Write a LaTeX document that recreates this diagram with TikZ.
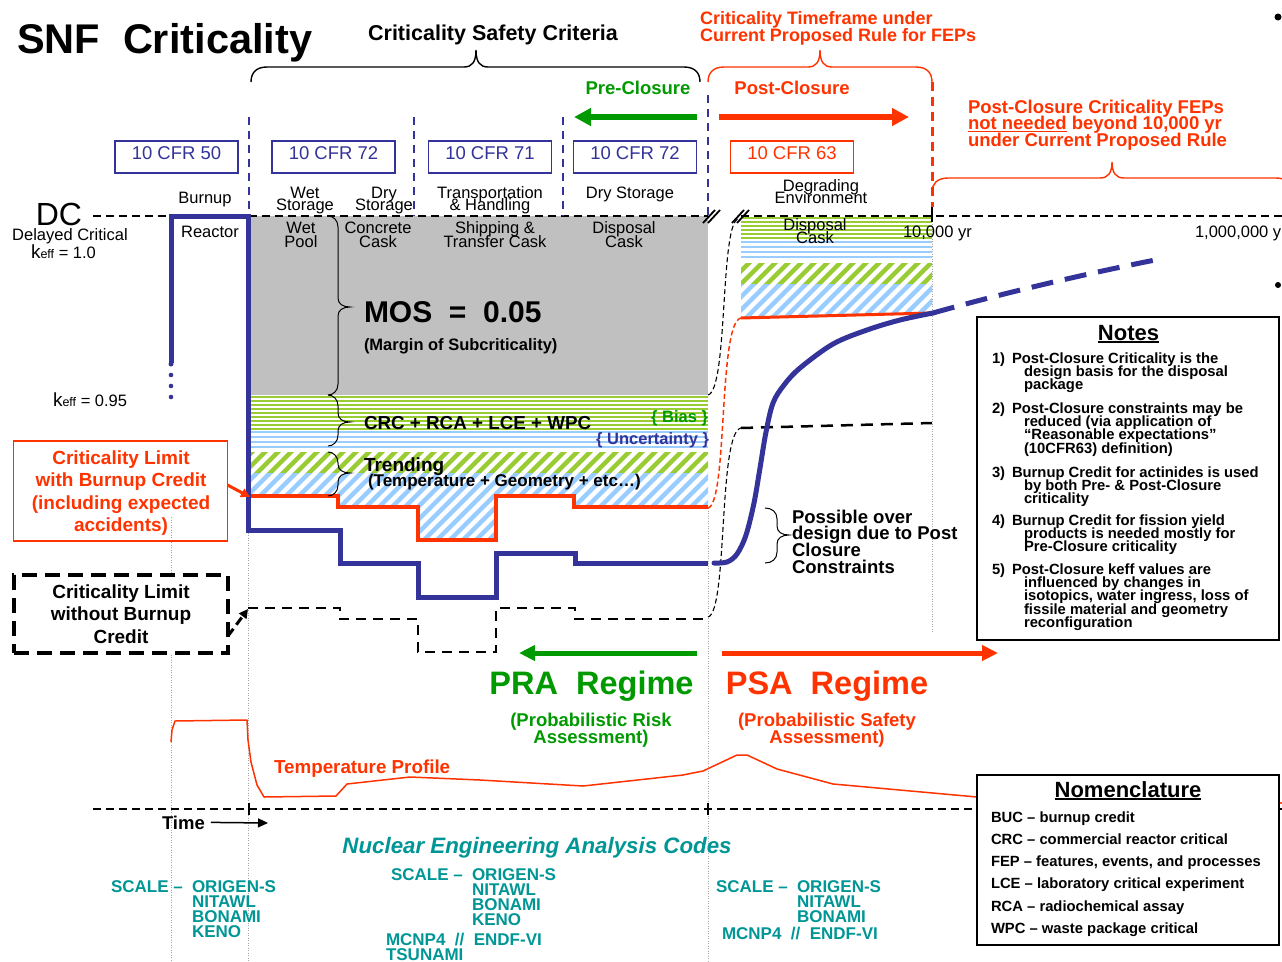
\documentclass[tikz,border=0pt]{standalone}
\usepackage{fontspec}
\setmainfont{Liberation Sans}
\usetikzlibrary{arrows.meta}
\definecolor{cblue}{RGB}{51,51,153}
\definecolor{cred}{RGB}{255,51,0}
\definecolor{cgreen}{RGB}{0,153,0}
\definecolor{hgreen}{RGB}{153,204,51}
\definecolor{hblue}{RGB}{153,204,255}
\definecolor{cgray}{RGB}{192,192,192}
\definecolor{cteal}{RGB}{0,150,150}
\newcommand{\fz}[2]{\fontsize{#1pt}{#2pt}\selectfont}
\newcommand{\mlc}[2]{\parbox[t]{#1pt}{\lineskiplimit=-100pt\lineskip=0pt\centering #2}}
\newcommand{\mll}[2]{\parbox[t]{#1pt}{\lineskiplimit=-100pt\lineskip=0pt\raggedright #2}}
\newcommand{\ulx}[1]{\leavevmode\setbox0=\hbox{#1}\rlap{\rule[-2.8pt]{\wd0}{1.4pt}}\box0\relax}
\newcommand{\ind}{\hspace*{12pt}}
% upward brace: x1, x2, xtip, yend, ybar, ytip
\newcommand{\upbr}[6]{(#1,#4) .. controls (#1,#5+6) and (#1+5,#5) .. (#1+16,#5) -- (#3-12,#5) .. controls (#3-4,#5) and (#3,#5-5) .. (#3,#6) .. controls (#3,#5-5) and (#3+4,#5) .. (#3+12,#5) -- (#2-16,#5) .. controls (#2-5,#5) and (#2,#5+6) .. (#2,#4)}
% rightward brace: ytop, ybot, ytip, xend, xbar, xtip
\newcommand{\rtbr}[6]{(#4,#1) .. controls (#5-5,#1) and (#5,#1+4) .. (#5,#1+11) -- (#5,#3-9) .. controls (#5,#3-3) and (#5+5,#3) .. (#6,#3) .. controls (#5+5,#3) and (#5,#3+3) .. (#5,#3+9) -- (#5,#2-11) .. controls (#5,#2-4) and (#5-5,#2) .. (#4,#2)}
\tikzset{
  every node/.style={inner sep=0pt, outer sep=0pt},
  lbl/.style={font=\fz{16.5}{12}},
  glbl/.style={font=\fz{16.5}{14}},
  cfrbox/.style={draw=cblue, line width=1.2pt, minimum width=123pt, minimum height=32pt, text depth=7pt, text=cblue, font=\fz{18.5}{18.5}},
  bdash/.style={cblue, line width=2.7pt, dash pattern=on 8pt off 6pt},
  rdash/.style={cred, line width=3pt, dash pattern=on 9pt off 6pt},
  dcline/.style={black, line width=1.5pt, dash pattern=on 8pt off 5pt},
  gdot/.style={gray!70, line width=0.7pt, dash pattern=on 1pt off 1.5pt},
  thindash/.style={black, line width=1.1pt, dash pattern=on 5pt off 3pt},
  limblue/.style={cblue, line width=5pt, line cap=round},
  limred/.style={cred, line width=3.5pt},
  limblack/.style={black, line width=2.8pt, dash pattern=on 10pt off 7pt},
  hstr/.style={line width=2.2pt},
  dstr/.style={line width=4.5pt},
  tealtxt/.style={text=cteal, font=\fz{17}{15}\bfseries},
  notetxt/.style={font=\fz{14.8}{13.4}\bfseries},
  nomtxt/.style={font=\fz{14.8}{22.3}\bfseries},
}
\begin{document}
\begin{tikzpicture}[x=1pt,y=-1pt]
\useasboundingbox (0,0) rectangle (1282,961);
\fill[white] (0,0) rectangle (1282,961);

% ---------- fills (pre-closure) ----------
\fill[cgray] (249,216) rectangle (708,395);
\begin{scope}
  \clip (249,395) rectangle (708,430);
  \foreach \yy in {397,401,...,429} \draw[hgreen,hstr] (249,\yy) -- (708,\yy);
\end{scope}
\begin{scope}
  \clip (249,430) rectangle (708,450);
  \foreach \yy in {432,437,...,449} \draw[hblue,hstr,line width=2.6pt] (249,\yy) -- (708,\yy);
\end{scope}
\begin{scope}
  \clip (249,452) rectangle (708,473);
  \foreach \xx in {40,53,...,720} \draw[hgreen,dstr] (\xx,560) -- ++(200,-200);
\end{scope}
\begin{scope}
  \clip (249,473) -- (708,473) -- (708,507) -- (574,507) -- (574,496) -- (496,496) -- (496,540) -- (418,540) -- (418,507) -- (338,507) -- (338,496) -- (249,496) -- cycle;
  \foreach \xx in {40,53,...,720} \draw[hblue,dstr] (\xx,560) -- ++(200,-200);
\end{scope}

% ---------- fills (post-closure) ----------
\begin{scope}
  \clip (741,216) rectangle (932,240);
  \foreach \yy in {218,222,...,238} \draw[hgreen,hstr] (741,\yy) -- (932,\yy);
\end{scope}
\begin{scope}
  \clip (741,240) rectangle (932,262);
  \foreach \yy in {242,247,...,261} \draw[hblue,hstr,line width=2.6pt] (741,\yy) -- (932,\yy);
\end{scope}
\begin{scope}
  \clip (741,263) rectangle (932,284);
  \foreach \xx in {600,613,...,940} \draw[hgreen,dstr] (\xx,360) -- ++(120,-120);
\end{scope}
\begin{scope}
  \clip (741,284) -- (932,284) -- (932,313) -- (741,318) -- cycle;
  \foreach \xx in {600,613,...,940} \draw[hblue,dstr] (\xx,360) -- ++(120,-120);
\end{scope}

% ---------- guide lines ----------
\draw[gdot] (171,517) -- (171,961);
\draw[gdot] (248,530) -- (248,961);
\draw[gdot] (708,508) -- (708,961);
\draw[gdot] (932,216) -- (932,632);

\draw[dcline] (93,216) -- (708,216);
\draw[dcline] (741,216) -- (1282,216);
\draw[line width=1.8pt] (703,223) -- (715,210) (708,223) -- (720,210);
\draw[line width=1.8pt] (732,223) -- (744,210) (737,223) -- (749,210);

\draw[bdash] (249,117) -- (249,214);
\draw[bdash] (414,117) -- (414,216);
\draw[bdash] (563,117) -- (563,216);
\draw[bdash] (708,95) -- (708,216);
\draw[rdash] (932,82) -- (932,207);
\draw[line width=2pt] (932,207) -- (932,222);

% time axis
\draw[dcline] (93,809) -- (1282,809);
\draw[line width=2.5pt] (249,803) -- (249,815);
\draw[line width=2.5pt] (708,803) -- (708,815);

% temperature profile
\draw[cred, line width=1.5pt, line join=round] (171,742) -- (172,730) -- (175,721) -- (247,720) -- (248,740) -- (251,762) -- (257,785) -- (264,797) -- (336,796) -- (347,784) -- (410,777) -- (480,780) -- (583,786) -- (683,775) -- (703,771) -- (737,755) -- (747,755) -- (777,769) -- (833,784) -- (977,797) -- (1282,803);

% ---------- limit lines ----------
\draw[limred] (249,496) -- (338,496) -- (338,507) -- (418,507) -- (418,540) -- (496,540) -- (496,496) -- (574,496) -- (574,507) -- (708,507);
\draw[limred, line width=3pt] (741,318) -- (932,313);
\draw[limblack] (248,608) -- (340,608) -- (340,619) -- (418,619) -- (418,652) -- (496,652) -- (496,608) -- (575,608) -- (575,619) -- (708,619);
\draw[limblack, line width=2.5pt, dash pattern=on 12pt off 8pt] (741,428) -- (932,423);
\draw[limblue, line cap=butt] (171,363) -- (171,216) -- (248,216) -- (248,530) -- (340,530) -- (340,563) -- (418,563) -- (418,597) -- (496,597) -- (496,553) -- (575,553) -- (575,563) -- (708,563);
\fill[cblue] (171,364) circle (2.5pt) (171,375) circle (2.3pt) (171,386) circle (2.3pt) (171,397) circle (2.3pt);

% connectors across the break
\draw[thindash] (708,395) .. controls (728,390) and (720,225) .. (738,219);
\draw[cred, line width=1.5pt, dash pattern=on 5pt off 3pt] (708,508) .. controls (728,503) and (718,322) .. (741,318);
\draw[thindash] (708,617) .. controls (728,612) and (718,432) .. (741,428);

% post-closure blue curve
\draw[cblue, line width=5pt, line cap=round] plot[smooth, tension=0.55] coordinates {(714,563) (727,562) (737,554) (746,535) (754,503) (760,468) (766,432) (773,403) (784,385) (800,368) (833,344) (867,330) (900,320) (933,313)};
\draw[cblue, line width=5pt, dash pattern=on 22pt off 12pt] (933,313) .. controls (1000,294) and (1080,275) .. (1155,260);

% ---------- braces ----------
\draw[line width=1.4pt] \upbr{251}{700}{476}{82}{67}{50};
\draw[cred, line width=1.4pt] \upbr{708}{932}{820}{82}{67}{50};
\draw[cred, line width=1.4pt] \upbr{932}{1292}{1112}{192}{178}{162};
\draw[line width=1pt] \rtbr{216}{395}{307}{328}{338}{350};
\draw[line width=1pt] \rtbr{395}{446}{422}{328}{338}{350};
\draw[line width=1pt] \rtbr{452}{496}{473}{328}{338}{350};
\draw[line width=1pt] \rtbr{508}{563}{535}{765}{777}{789};

% ---------- arrows ----------
\draw[cgreen, line width=5.5pt, -{Triangle[length=17pt,width=17pt]}] (697,117) -- (574,117);
\draw[cred, line width=5.5pt, -{Triangle[length=17pt,width=17pt]}] (719,117) -- (909,117);
\draw[cgreen, line width=5pt, -{Triangle[length=16pt,width=15pt]}] (697,653) -- (519,653);
\draw[cred, line width=5pt, -{Triangle[length=16pt,width=15pt]}] (722,653) -- (998,653);

% ---------- title & headers ----------
\node[anchor=base west, font=\fz{41.5}{41.5}\bfseries] (title) at (17,53) {SNF\ \ Criticality};
\node[anchor=base, font=\fz{21.5}{21.5}\bfseries] (csc) at (493,40) {Criticality Safety Criteria};
\node[anchor=base west, font=\fz{18}{17}\bfseries, text=cred] (tf) at (700,24) {\mll{320}{Criticality Timeframe under\\Current Proposed Rule for FEPs}};
\node[anchor=base, font=\fz{18.5}{18.5}\bfseries, text=cgreen] (pre) at (638,94) {Pre-Closure};
\node[anchor=base, font=\fz{18.5}{18.5}\bfseries, text=cred] (post) at (792,94) {Post-Closure};
\node[anchor=base west, font=\fz{18.5}{16.5}\bfseries, text=cred] (feps) at (968,113) {\mll{320}{Post-Closure Criticality FEPs\\\ulx{not needed} beyond 10,000 yr\\under Current Proposed Rule}};
\fill (1278,17) circle (3.5pt);
\fill (1278,285) circle (3pt);

% CFR boxes
\node[cfrbox] (c50) at (176.5,157) {10 CFR 50};
\node[cfrbox] (c72a) at (333.5,157) {10 CFR 72};
\node[cfrbox] (c71) at (490,157) {10 CFR 71};
\node[cfrbox] (c72b) at (635,157) {10 CFR 72};
\node[cfrbox, draw=cred, text=cred] (c63) at (792,157) {10 CFR 63};

% phase labels
\node[lbl, anchor=base] (burn) at (205,203) {Burnup};
\node[lbl, anchor=base] (wst) at (305,198) {\mlc{90}{Wet\\Storage}};
\node[lbl, anchor=base] (dst) at (384,198) {\mlc{90}{Dry\\Storage}};
\node[lbl, anchor=base] (trh) at (490,198) {\mlc{140}{Transportation\\\& Handling}};
\node[lbl, anchor=base] (dry2) at (630,198) {Dry Storage};
\node[lbl, anchor=base] (deg) at (821,191) {\mlc{120}{Degrading\\Environment}};

\node[glbl, anchor=base] (wp) at (301,233) {\mlc{80}{Wet\\Pool}};
\node[glbl, anchor=base] (cc) at (378,233) {\mlc{90}{Concrete\\Cask}};
\node[glbl, anchor=base] (stc) at (495,233) {\mlc{130}{Shipping \&\\Transfer Cask}};
\node[glbl, anchor=base] (dc1) at (624,233) {\mlc{90}{Disposal\\Cask}};
\node[lbl, font=\fz{16.5}{13}, anchor=base] (dc2) at (815,230) {\mlc{90}{Disposal\\Cask}};
\node[lbl, anchor=base] (reac) at (210,237) {Reactor};

\node[anchor=base, font=\fz{32}{32}] (dc) at (59,225) {DC};
\node[anchor=base, font=\fz{16.5}{16.5}] (delc) at (70,240) {Delayed Critical};
\node[anchor=base west, font=\fz{16.5}{16.5}] (k1) at (31,258) {{\fz{19}{19}k}{\fz{12.5}{12.5}eff} = 1.0};
\node[anchor=base west, font=\fz{16.5}{16.5}] (k2) at (53,406) {{\fz{19}{19}k}{\fz{12.5}{12.5}eff} = 0.95};
\node[anchor=base west, font=\fz{16.5}{16.5}] (y1) at (903,237) {10,000 yr};
\node[anchor=base west, font=\fz{16.5}{16.5}] (y2) at (1195,237) {1,000,000 yr};

% margin texts
\node[anchor=base west, font=\fz{30}{30}\bfseries] (mos) at (364,322) {MOS\ \ =\ \ 0.05};
\node[anchor=base west, font=\fz{16.5}{16.5}\bfseries] (mos2) at (364,350) {(Margin of Subcriticality)};
\node[anchor=base west, font=\fz{18.8}{18.8}\bfseries] (crc) at (364,429) {CRC + RCA + LCE + WPC};
\node[anchor=base east, font=\fz{16.5}{16.5}\bfseries, text=cgreen] (bias) at (708,422) {\{ Bias \}};
\node[anchor=base east, font=\fz{16.5}{16.5}\bfseries, text=cblue] (unc) at (709,444) {\{ Uncertainty \}};
\node[anchor=base west, font=\fz{19}{19}\bfseries] (trd) at (364,471) {Trending};
\node[anchor=base west, font=\fz{17}{17}\bfseries] (trd2) at (368,486) {(Temperature + Geometry + etc…)};

% limit boxes
\node[draw=cred, line width=1.3pt, minimum width=214pt, minimum height=100pt] (rbox) at (120.5,491) {};
\node[anchor=base, font=\fz{19}{22.6}\bfseries, text=cred] (rboxt) at (121,464) {\mlc{220}{Criticality Limit\\with Burnup Credit\\(including expected\\accidents)}};
\coordinate (rlim) at (250,497);
\draw[cred, line width=3pt, -{Triangle[length=9pt,width=9pt]}] ([yshift=6pt]rbox.east) -- (rlim);

\node[draw, fill=white, line width=3.5pt, dash pattern=on 15pt off 8pt, minimum width=214pt, minimum height=78pt] (bbox) at (121,614) {};
\node[anchor=base, font=\fz{19}{22.5}\bfseries] (bboxt) at (121,598) {\mlc{220}{Criticality Limit\\without Burnup\\Credit}};
\coordinate (blim) at (248,609);
\draw[line width=3pt, dash pattern=on 9pt off 5pt, -{Triangle[length=9pt,width=9pt]}] ([yshift=-22pt]bbox.east) -- (blim);

\node[anchor=base west, font=\fz{18.5}{16.8}\bfseries] (over) at (792,523) {\mll{200}{Possible over\\design due to Post\\Closure\\Constraints}};

% regimes
\node[anchor=base, font=\fz{32.5}{32.5}\bfseries, text=cgreen] (pra) at (591.5,694) {PRA\ \ Regime};
\node[anchor=base, font=\fz{32.5}{32.5}\bfseries, text=cred] (psa) at (827,694) {PSA\ \ Regime};
\node[anchor=base, font=\fz{18.5}{17}\bfseries, text=cgreen] (pra2) at (591,726) {\mlc{220}{(Probabilistic Risk\\Assessment)}};
\node[anchor=base, font=\fz{18.5}{17}\bfseries, text=cred] (psa2) at (827,726) {\mlc{220}{(Probabilistic Safety\\Assessment)}};

\node[anchor=base west, font=\fz{18.8}{18.8}\bfseries, text=cred] (tprof) at (274,773) {Temperature Profile};
\node[anchor=base west, font=\fz{18.5}{18.5}\bfseries] (time) at (162,829) {Time};
\coordinate (tarr) at (268,823);
\draw[line width=1.5pt, -{Triangle[length=10pt,width=9pt]}] ([xshift=6pt]time.east) -- (tarr);

% codes
\node[anchor=base, font=\fz{22.3}{22.3}\bfseries\itshape, text=cteal] (neac) at (537,853) {Nuclear Engineering Analysis Codes};
\node[tealtxt, anchor=base west] (sc1) at (111,892) {SCALE –};
\node[tealtxt, anchor=base west] (or1) at (192,892) {\mll{150}{ORIGEN-S\\NITAWL\\BONAMI\\KENO}};
\node[tealtxt, anchor=base west] (sc2) at (391,880) {SCALE –};
\node[tealtxt, anchor=base west] (or2) at (472,880) {\mll{150}{ORIGEN-S\\NITAWL\\BONAMI\\KENO}};
\node[tealtxt, anchor=base west] (mc2) at (386,945) {\mll{250}{MCNP4\ \ //\ \ ENDF-VI\\TSUNAMI}};
\node[tealtxt, anchor=base west] (sc3) at (716,892) {SCALE –};
\node[tealtxt, anchor=base west] (or3) at (797,892) {\mll{150}{ORIGEN-S\\NITAWL\\BONAMI}};
\node[tealtxt, anchor=base west] (mc3) at (722,939) {MCNP4\ \ //\ \ ENDF-VI};

% notes box
\node[draw, fill=white, line width=1.3pt, minimum width=302pt, minimum height=323pt] (notes) at (1128,478.5) {};
\node[anchor=base, font=\fz{22}{22}\bfseries] (notest) at (1128.5,340) {\ulx{Notes}};
\node[notetxt, anchor=base west] (n1) at (992,363) {1)};
\node[notetxt, anchor=base west] (n1t) at (1012,363) {\mll{300}{Post-Closure Criticality is the\\\ind design basis for the disposal\\\ind package}};
\node[notetxt, anchor=base west] (n2) at (992,413) {2)};
\node[notetxt, anchor=base west] (n2t) at (1012,413) {\mll{300}{Post-Closure constraints may be\\\ind reduced (via application of\\\ind “Reasonable expectations”\\\ind (10CFR63) definition)}};
\node[notetxt, anchor=base west] (n3) at (992,477) {3)};
\node[notetxt, anchor=base west] (n3t) at (1012,477) {\mll{300}{Burnup Credit for actinides is used\\\ind by both Pre- \& Post-Closure\\\ind criticality}};
\node[notetxt, anchor=base west] (n4) at (992,525) {4)};
\node[notetxt, anchor=base west] (n4t) at (1012,525) {\mll{300}{Burnup Credit for fission yield\\\ind products is needed mostly for\\\ind Pre-Closure criticality}};
\node[notetxt, anchor=base west] (n5) at (992,574) {5)};
\node[notetxt, anchor=base west] (n5t) at (1012,574) {\mll{300}{Post-Closure keff values are\\\ind influenced by changes in\\\ind isotopics, water ingress, loss of\\\ind fissile material and geometry\\\ind reconfiguration}};

% nomenclature box
\node[draw, fill=white, line width=1.3pt, minimum width=302pt, minimum height=170pt] (nom) at (1128,860) {};
\node[anchor=base, font=\fz{22}{22}\bfseries] (nomt) at (1128,797) {\ulx{Nomenclature}};
\node[nomtxt, anchor=base west] (nomi) at (991,822) {\mll{285}{BUC – burnup credit\\CRC – commercial reactor critical\\FEP – features, events, and processes\\LCE – laboratory critical experiment\\RCA – radiochemical assay\\WPC – waste package critical}};
\end{tikzpicture}
\end{document}
